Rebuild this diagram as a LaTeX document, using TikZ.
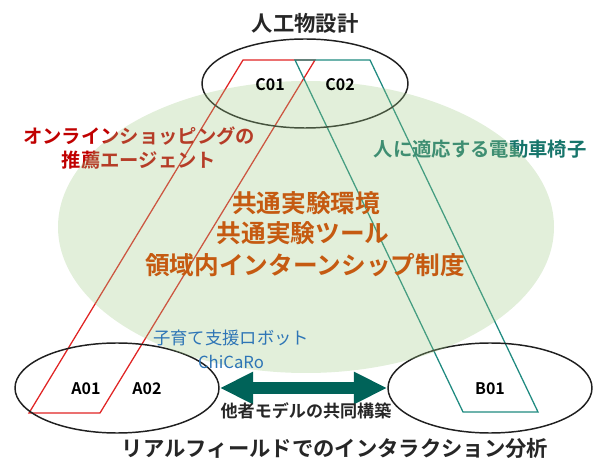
\documentclass[tikz,border=0pt]{standalone}
\usepackage{fontspec}
\setmainfont{Noto Sans CJK JP}[BoldFont={Noto Sans CJK JP Bold}]
\usetikzlibrary{shapes.geometric,arrows.meta}
\definecolor{redline}{HTML}{E02424}
\definecolor{redtext}{HTML}{C00000}
\definecolor{tealline}{HTML}{1F8A80}
\definecolor{tealtext}{HTML}{17756B}
\definecolor{greenfill}{HTML}{9ECA84}
\definecolor{orangetext}{HTML}{C55A11}
\definecolor{bluetext}{HTML}{2E75B6}
\definecolor{arrowcol}{HTML}{006359}
\definecolor{edge}{HTML}{202020}
\tikzset{
  field/.style={ellipse, draw=edge, line width=1.1pt, inner sep=0pt, minimum width=153pt, minimum height=67.5pt},
  lab/.style={font=\bfseries\fontsize{12}{14}\selectfont, text=black},
  title/.style={font=\bfseries\fontsize{16}{19}\selectfont, text=black!85},
  orange/.style={font=\bfseries\fontsize{18.5}{22}\selectfont, text=orangetext},
}
\begin{document}
\begin{tikzpicture}[x=0.75pt, y=-0.75pt]
\useasboundingbox (0,0) rectangle (596,459);
% parallelograms
\draw[redline, line width=0.95pt, line join=miter] (243,60) -- (315,60) -- (100,413) -- (29,413) -- cycle;
\draw[tealline, line width=0.95pt, line join=miter] (295,60) -- (370,60) -- (538,412) -- (463,412) -- cycle;
% ellipses
\node[field, minimum width=154.5pt, minimum height=66.75pt] (C) at (305,83.5) {};
\node[field] (A) at (117,388) {};
\node[field] (B) at (490,388) {};
% labels that the green area overlays
\node[font=\bfseries\fontsize{14.5}{18}\selectfont, text=redtext, align=center, inner sep=0pt] (rec) at (139,148) {オンラインショッピングの\\推薦エージェント};
\node[font=\bfseries\fontsize{14.5}{18}\selectfont, text=tealtext, inner sep=0pt] (chair) at (480,149) {人に適応する電動車椅子};
% green common area
\node[ellipse, fill=greenfill, fill opacity=0.3, inner sep=0pt, minimum width=372pt, minimum height=219pt] (G) at (306,227) {};
% centre texts
\node[orange, inner sep=0pt] (t1) at (306,203) {共通実験環境};
\node[orange, inner sep=0pt] (t2) at (303,233) {共通実験ツール};
\node[orange, inner sep=0pt] (t3) at (305,265) {領域内インターンシップ制度};
\node[font=\fontsize{13}{15}\selectfont, text=bluetext, inner sep=0pt] (rob) at (231,338) {子育て支援ロボット};
\node[font=\fontsize{12.5}{15}\selectfont, text=bluetext, inner sep=0pt] (chi) at (231,362) {ChiCaRo};
% labels in the ellipses
\node[lab] (c01) at (270,85) {C01};
\node[lab] (c02) at (340,85) {C02};
\node[lab] (a01) at (86,389) {A01};
\node[lab] (a02) at (147,389) {A02};
\node[lab] (b01) at (490,389) {B01};
% arrow
\draw[arrowcol, line width=9pt, {Triangle[length=25pt, width=22.5pt]}-{Triangle[length=25pt, width=22.5pt]}] (A.east) -- (B.west);
\node[font=\bfseries\fontsize{12.8}{15}\selectfont, text=black!85, inner sep=0pt] (co) at (306,411) {他者モデルの共同構築};
% titles
\node[title, inner sep=0pt] (top) at (305,23) {人工物設計};
\node[title, inner sep=0pt] (bottom) at (335,448) {リアルフィールドでのインタラクション分析};
\end{tikzpicture}
\end{document}
